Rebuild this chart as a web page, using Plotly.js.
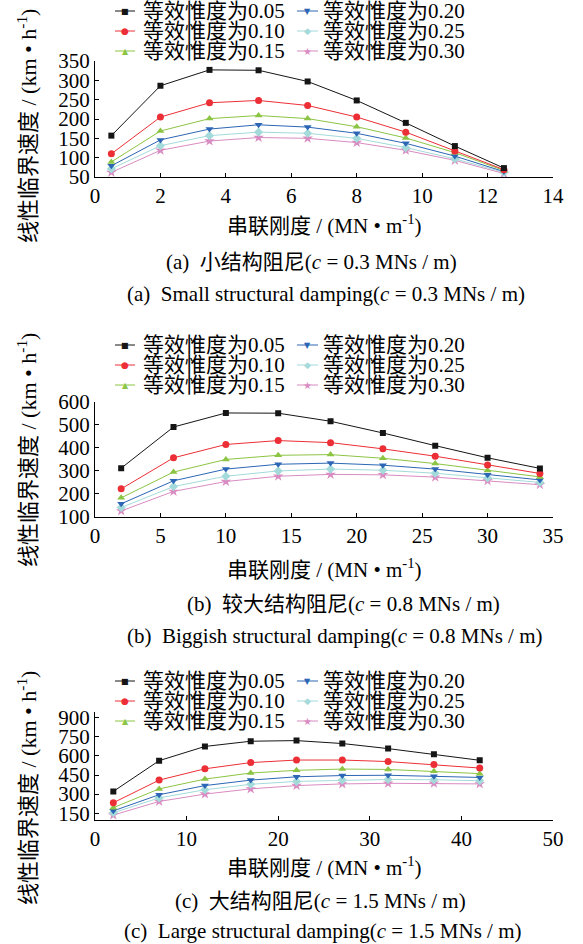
<!DOCTYPE html>
<html>
<head>
<meta charset="utf-8">
<script src="https://cdn.plot.ly/plotly-3.0.1.min.js"></script>
<style>html,body{margin:0;padding:0;background:#fff;}#chart{width:583px;height:944px;}</style>
</head>
<body>
<div id="chart"></div>
<script>
// ---- data ----
var seriesNames = ["等效惟度为0.05","等效惟度为0.10","等效惟度为0.15","等效惟度为0.20","等效惟度为0.25","等效惟度为0.30"];

var xA = [0.5, 2, 3.5, 5, 6.5, 8, 9.5, 11, 12.5];
var a005 = [157, 286, 327, 326, 297, 248, 190, 130, 73];
var a010 = [110, 205, 242, 248, 235, 205, 166, 117, 69];
var a015 = [89, 169, 201, 209, 201, 180, 151, 113, 67];
var a020 = [79, 146, 174, 185, 179, 163, 137, 104, 64];
var a025 = [71, 131, 157, 166, 163, 150, 126, 97, 62];
var a030 = [62, 119, 143, 152, 150, 139, 119, 93, 59];

var xB = [2, 6, 10, 14, 18, 22, 26, 30, 34];
var b005 = [311, 490, 551, 550, 515, 464, 409, 356, 310];
var b010 = [221, 356, 414, 431, 422, 395, 363, 325, 288];
var b015 = [182, 294, 349, 367, 370, 354, 331, 301, 273];
var b020 = [156, 256, 307, 328, 333, 324, 307, 282, 260];
var b025 = [140, 231, 276, 299, 307, 302, 289, 268, 249];
var b030 = [125, 210, 253, 276, 284, 282, 272, 256, 239];

var xC = [2, 7, 12, 17, 22, 27, 32, 37, 42];
var c005 = [321, 563, 675, 716, 721, 698, 658, 614, 566];
var c010 = [232, 410, 499, 548, 568, 568, 556, 533, 505];
var c015 = [193, 341, 418, 466, 487, 497, 494, 479, 461];
var c020 = [168, 295, 367, 410, 436, 446, 448, 441, 431];
var c025 = [153, 270, 334, 377, 400, 410, 415, 413, 405];
var c030 = [135, 242, 300, 341, 367, 380, 385, 385, 380];

var yTicksC = [150, 300, 450, 600, 750, 900];

var captionsCN = ["(a)\u00a0\u00a0小结构阻尼(<i>c</i> = 0.3 MNs / m)",
                  "(b)\u00a0\u00a0较大结构阻尼(<i>c</i> = 0.8 MNs / m)",
                  "(c)\u00a0\u00a0大结构阻尼(<i>c</i> = 1.5 MNs / m)"];
var captionsEN = ["(a)\u00a0\u00a0Small structural damping(<i>c</i> = 0.3 MNs / m)",
                  "(b)\u00a0\u00a0Biggish structural damping(<i>c</i> = 0.8 MNs / m)",
                  "(c)\u00a0\u00a0Large structural damping(<i>c</i> = 1.5 MNs / m)"];
var xTitle = "串联刚度 / (MN • m<sup>-1</sup>)";
var yTitle = "线性临界速度 / (km • h<sup>-1</sup>)";

// ---- styles ----
var colors = ["#151515", "#ec2f36", "#8cc443", "#2c66b4", "#a4dada", "#d98bc2"];
var symbols = ["square", "circle", "triangle-up", "triangle-down", "diamond", "star"];
var msizes = [6, 7, 7, 7, 7, 8];
var glyphs = ["\u25A0", "\u25CF", "\u25B2", "\u25BC", "\u25C6", "\u2605"];
var gsizes = [8, 9, 8, 8, 9, 10];

var W = 583, H = 944;
var FONT = "Liberation Serif, Noto Sans CJK SC, serif";
function px(x) { return x / W; }
function py(y) { return 1 - y / H; }

var panels = [
  {x: xA, ys: [a005, a010, a015, a020, a025, a030], xa: "x", ya: "y"},
  {x: xB, ys: [b005, b010, b015, b020, b025, b030], xa: "x2", ya: "y2"},
  {x: xC, ys: [c005, c010, c015, c020, c025, c030], xa: "x3", ya: "y3"}
];

var traces = [];
panels.forEach(function (p) {
  for (var i = p.ys.length - 1; i >= 0; i--) {
    traces.push({
      type: "scatter", mode: "lines+markers",
      x: p.x, y: p.ys[i], xaxis: p.xa, yaxis: p.ya,
      name: seriesNames[i], showlegend: false,
      line: {color: colors[i], width: 1},
      marker: {symbol: symbols[i], size: msizes[i], color: colors[i], line: {width: 0}}
    });
  }
});

function xax(range, dtick) {
  return {
    domain: [px(95), px(553)], range: range, dtick: dtick, tick0: 0,
    showgrid: false, zeroline: false, showline: true, linecolor: "#000", linewidth: 1,
    ticks: "inside", ticklen: 4, tickcolor: "#000",
    tickfont: {family: FONT, size: 21, color: "#000"}, automargin: false, fixedrange: true
  };
}
function yax(range, domain, extra) {
  var o = {
    domain: domain, range: range,
    showgrid: false, zeroline: false, showline: true, linecolor: "#000", linewidth: 1,
    ticks: "inside", ticklen: 4, tickcolor: "#000",
    tickfont: {family: FONT, size: 21, color: "#000"}, automargin: false, fixedrange: true
  };
  for (var k in extra) o[k] = extra[k];
  return o;
}

var layout = {
  width: W, height: H,
  margin: {l: 0, r: 0, t: 0, b: 0},
  paper_bgcolor: "#fff", plot_bgcolor: "rgba(0,0,0,0)",
  showlegend: false,
  font: {family: FONT, size: 21, color: "#000"},
  xaxis: xax([0, 14], 2), yaxis: yax([50, 350], [py(177), py(61)], {dtick: 50, tick0: 0, anchor: "x"}),
  xaxis2: xax([0, 35], 5), yaxis2: yax([100, 600], [py(516.7), py(401.7)], {dtick: 100, tick0: 0, anchor: "x2"}),
  xaxis3: xax([0, 50], 10), yaxis3: yax([100, 950], [py(819.5), py(711.5)], {tickmode: "array", tickvals: yTicksC, anchor: "x3"}),
  annotations: [], shapes: []
};
layout.xaxis.anchor = "y"; layout.xaxis2.anchor = "y2"; layout.xaxis3.anchor = "y3";

// titles and captions
var xTitleY = [225, 568, 866];
var yTitleY = [126, 450, 788];
var cap1 = [[311, 262], [343, 604], [320, 901]];
var cap2 = [[326, 294], [334, 636], [323, 931]];
var legendRows = [[11, 31, 51], [345, 365, 385], [681, 701, 721]];

function ann(text, x, y, opts) {
  var a = {text: text, x: px(x), y: py(y), xref: "paper", yref: "paper",
           showarrow: false, xanchor: "center", yanchor: "middle",
           font: {family: FONT, size: 21, color: "#000"}};
  for (var k in opts) a[k] = opts[k];
  layout.annotations.push(a);
}

for (var p = 0; p < 3; p++) {
  ann(xTitle, 325, xTitleY[p], {});
  ann(yTitle, 27, yTitleY[p], {textangle: -90, font: {family: FONT, size: 22, color: "#000"}});
  ann(captionsCN[p], cap1[p][0], cap1[p][1], {});
  ann(captionsEN[p], cap2[p][0], cap2[p][1], {});
  // manual legend: two columns x three rows
  for (var i = 0; i < 6; i++) {
    var col = i < 3 ? 0 : 1;
    var row = i % 3;
    var yy = legendRows[p][row];
    var lx0 = col === 0 ? 115 : 297, lx1 = col === 0 ? 135 : 318, tx = col === 0 ? 141 : 321;
    layout.shapes.push({type: "line", xref: "paper", yref: "paper",
      x0: px(lx0), x1: px(lx1), y0: py(yy), y1: py(yy),
      line: {color: colors[i], width: 1}});
    ann(glyphs[i], (lx0 + lx1) / 2, yy, {font: {family: "DejaVu Sans", size: gsizes[i], color: colors[i]}});
    ann(seriesNames[i], tx, yy, {xanchor: "left"});
  }
}

Plotly.newPlot("chart", traces, layout, {displayModeBar: false, staticPlot: true});
</script>
</body>
</html>
